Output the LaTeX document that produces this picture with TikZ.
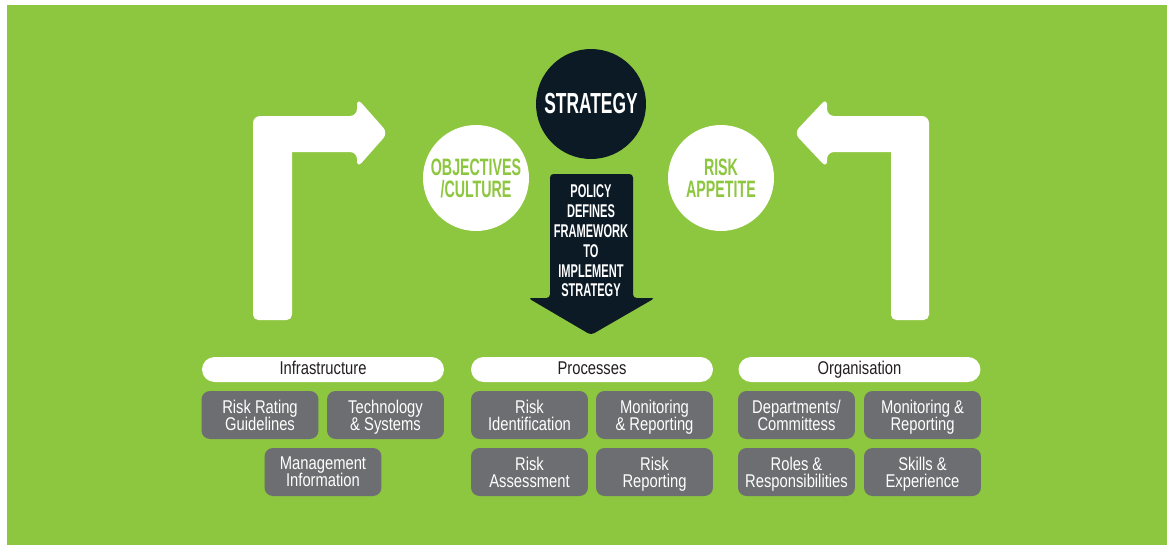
\documentclass[tikz,border=0pt]{standalone}
\usepackage{fontspec}
\setmainfont{Liberation Sans}
\newfontfamily\narrowfont[FakeStretch=0.8]{Liberation Sans}
\newfontfamily\headfont[FakeStretch=0.6]{Liberation Sans}

\definecolor{riskgreen}{HTML}{8DC63F}
\definecolor{boxgray}{HTML}{6D6E71}
\definecolor{navy}{HTML}{0B1A25}
\definecolor{textgray}{HTML}{231F20}

\tikzset{
    box/.style={fill=boxgray, rounded corners=0.17cm, minimum width=2.34cm, minimum height=0.96cm,
        inner sep=0pt, align=center, text depth=0pt, text=white,
        font=\narrowfont\fontsize{10.5}{9.8}\selectfont},
    pill/.style={fill=white, rounded corners=0.25cm, minimum width=4.84cm, minimum height=0.5cm,
        inner sep=0pt, text height=7.5pt, text depth=2pt, text=textgray,
        font=\narrowfont\fontsize{10.5}{10}\selectfont},
    badge/.style={circle, fill=white, minimum size=2.12cm, inner sep=0pt, align=center,
        text=riskgreen, font=\headfont\bfseries\fontsize{13.5}{12.5}\selectfont}
}

\begin{document}
\begin{tikzpicture}[x=0.02cm, y=-0.02cm]
    \useasboundingbox (0,0) rectangle (1167,548);
    \fill[riskgreen] (7,5) rectangle (1167,545);

    % turning arrows
    \fill[white, rounded corners=4pt] (253,320) -- (253,116) -- (357,116) -- (357,98) -- (388,133)
        -- (357,168) -- (357,152) [sharp corners] -- (292,152) [rounded corners=3pt] -- (292,320) -- cycle;
    \fill[white, rounded corners=4pt] (929,320) -- (929,116) -- (827,116) -- (827,98) -- (794,133)
        -- (827,168) -- (827,152) [sharp corners] -- (891,152) [rounded corners=3pt] -- (891,320) -- cycle;

    % policy arrow
    \fill[navy, rounded corners=2pt] (550,174) -- (633,174) -- (633,298) -- (655,298) -- (591,335)
        -- (528,298) -- (550,298) -- cycle;
    \node[align=center, text=white, font=\headfont\bfseries\fontsize{10.5}{11.3}\selectfont] (policy) at (591,241)
        {POLICY\\DEFINES\\FRAMEWORK\\TO\\IMPLEMENT\\STRATEGY};

    \node[circle, fill=navy, minimum size=2.2cm, inner sep=0pt, text=white,
        font=\headfont\bfseries\fontsize{16.5}{18}\selectfont] (strategy) at (591,104) {STRATEGY};
    \node[badge] (objectives) at (476,178) {OBJECTIVES\\/CULTURE};
    \node[badge] (appetite) at (721,178) {RISK\\APPETITE};

    % pillars
    \foreach \x/\name/\label in {323/infra/Infrastructure, 592/proc/Processes, 859.5/org/Organisation}
        \node[pill] (\name) at (\x,369.5) {\label};

    \node[box] (rating) at (260,415) {Risk Rating\\Guidelines};
    \node[box] (tech) at (385.5,415) {Technology\\\& Systems};
    \node[box] (mgmt) at (323,472) {Management\\Information};

    \node[box] (ident) at (529.5,415) {Risk\\Identification};
    \node[box] (monitor) at (654.5,415) {Monitoring\\\& Reporting};
    \node[box] (assess) at (529.5,472) {Risk\\Assessment};
    \node[box] (report) at (654.5,472) {Risk\\Reporting};

    \node[box] (depts) at (796.5,415) {Departments/\\Committess};
    \node[box] (orgmon) at (922.5,415) {Monitoring \&\\Reporting};
    \node[box] (roles) at (796.5,472) {Roles \&\\Responsibilities};
    \node[box] (skills) at (922.5,472) {Skills \&\\Experience};
\end{tikzpicture}
\end{document}
